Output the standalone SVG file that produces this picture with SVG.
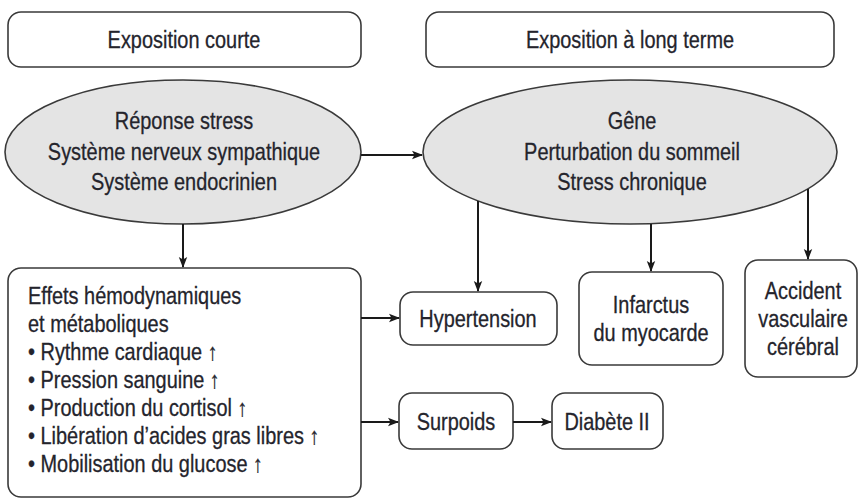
<svg xmlns="http://www.w3.org/2000/svg" width="862" height="501" viewBox="0 0 862 501">
<defs>
<marker id="ah" markerWidth="11" markerHeight="10" refX="10" refY="5" orient="auto" markerUnits="userSpaceOnUse">
<path d="M0,0.8 L11,5 L0,9.2 L2.5,5 Z" fill="#1a1a1a"/>
</marker>
<style>
.box{fill:#fff;stroke:#3a3a3a;stroke-width:1.6}
.ell{fill:#e4e4e4;stroke:#3a3a3a;stroke-width:1.6}
.t{font-family:"Liberation Sans","Arial",sans-serif;font-size:24px;fill:#24242c;stroke:#24242c;stroke-width:0.3}
.c{text-anchor:middle}
.con{stroke:#1a1a1a;stroke-width:2;fill:none;marker-end:url(#ah)}
</style>
</defs>
<rect width="862" height="501" fill="#fff"/>
<g id="n-courte">
<rect class="box" x="8" y="12" width="353" height="55" rx="13"/>
<text class="t c" transform="translate(184,48) scale(0.83,1)">Exposition courte</text>
</g>
<g id="n-long">
<rect class="box" x="426" y="12" width="408" height="55" rx="13"/>
<text class="t c" transform="translate(630,48) scale(0.83,1)">Exposition à long terme</text>
</g>
<g id="n-stress">
<ellipse class="ell" cx="183" cy="152" rx="178" ry="72"/>
<text class="t c" transform="translate(184,129) scale(0.83,1)">Réponse stress</text>
<text class="t c" transform="translate(184,160) scale(0.83,1)">Système nerveux sympathique</text>
<text class="t c" transform="translate(184,190) scale(0.83,1)">Système endocrinien</text>
</g>
<g id="n-gene">
<ellipse class="ell" cx="630" cy="152" rx="207" ry="72"/>
<text class="t c" transform="translate(632,129) scale(0.83,1)">Gêne</text>
<text class="t c" transform="translate(632,160) scale(0.83,1)">Perturbation du sommeil</text>
<text class="t c" transform="translate(632,190) scale(0.83,1)">Stress chronique</text>
</g>
<g id="n-effets">
<rect class="box" x="8" y="268" width="353" height="229" rx="13"/>
<text class="t" transform="translate(28,304) scale(0.83,1)">Effets hémodynamiques</text>
<text class="t" transform="translate(28,332) scale(0.83,1)">et métaboliques</text>
<text class="t" transform="translate(28,360) scale(0.83,1)">• Rythme cardiaque ↑</text>
<text class="t" transform="translate(28,388) scale(0.83,1)">• Pression sanguine ↑</text>
<text class="t" transform="translate(28,416) scale(0.83,1)">• Production du cortisol ↑</text>
<text class="t" transform="translate(28,444) scale(0.83,1)">• Libération d’acides gras libres ↑</text>
<text class="t" transform="translate(28,472) scale(0.83,1)">• Mobilisation du glucose ↑</text>
</g>
<g id="n-hyper">
<rect class="box" x="400" y="292" width="157" height="53" rx="13"/>
<text class="t c" transform="translate(478,327) scale(0.83,1)">Hypertension</text>
</g>
<g id="n-infarctus">
<rect class="box" x="579" y="272" width="144" height="93" rx="13"/>
<text class="t c" transform="translate(651,313) scale(0.83,1)">Infarctus</text>
<text class="t c" transform="translate(651,341) scale(0.83,1)">du myocarde</text>
</g>
<g id="n-avc">
<rect class="box" x="745" y="260" width="112" height="117" rx="13"/>
<text class="t c" transform="translate(803,299) scale(0.83,1)">Accident</text>
<text class="t c" transform="translate(803,327) scale(0.83,1)">vasculaire</text>
<text class="t c" transform="translate(803,355) scale(0.83,1)">cérébral</text>
</g>
<g id="n-surpoids">
<rect class="box" x="399" y="393" width="114" height="56" rx="13"/>
<text class="t c" transform="translate(456,430) scale(0.83,1)">Surpoids</text>
</g>
<g id="n-diabete">
<rect class="box" x="552" y="393" width="111" height="56" rx="13"/>
<text class="t c" transform="translate(607,430) scale(0.83,1)">Diabète II</text>
</g>
<g id="connectors">
<line class="con" x1="361" y1="155" x2="422" y2="155"/>
<line class="con" x1="183" y1="224" x2="183" y2="267"/>
<line class="con" x1="478" y1="201" x2="478" y2="291"/>
<line class="con" x1="651" y1="224" x2="651" y2="271"/>
<line class="con" x1="808" y1="189" x2="808" y2="259"/>
<line class="con" x1="361" y1="318" x2="399" y2="318"/>
<line class="con" x1="361" y1="422" x2="398" y2="422"/>
<line class="con" x1="513" y1="422" x2="551" y2="422"/>
</g>
</svg>
